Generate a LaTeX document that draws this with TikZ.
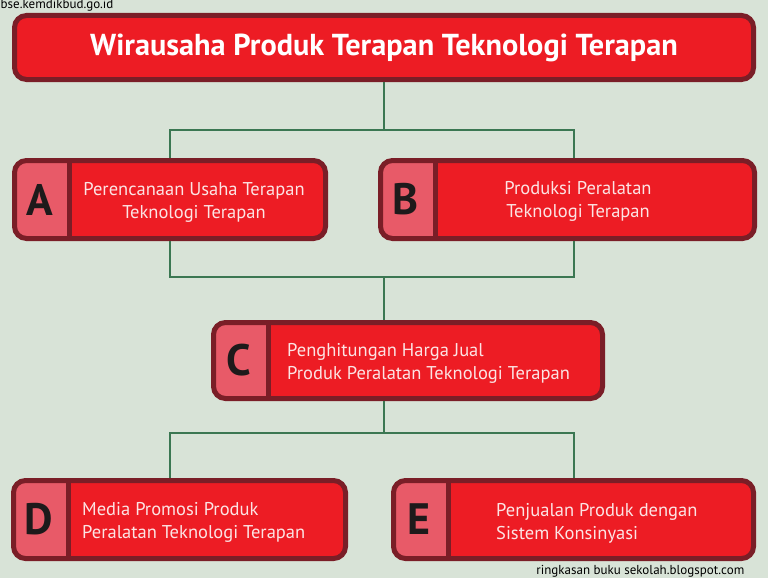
\documentclass[tikz,border=0pt]{standalone}
\usepackage{fontspec}
\setmainfont{PT Sans}
\definecolor{bg}{HTML}{D8E3D7}
\definecolor{boxred}{HTML}{ED1C24}
\definecolor{boxedge}{HTML}{7A1E27}
\definecolor{panel}{HTML}{E85A68}
\definecolor{linkgreen}{HTML}{3B7752}
\definecolor{paletext}{HTML}{FCE4E4}
\definecolor{letterink}{HTML}{1E1A1B}

\begin{document}
\begin{tikzpicture}[x=1pt, y=-1pt,
    box/.style={draw=boxedge, line width=5pt, fill=boxred, rounded corners=12pt,
        minimum height=78pt, inner sep=0pt},
    tagbox/.style={box, path picture={
        \fill[panel, sharp corners] (path picture bounding box.north west)
            rectangle ([xshift=55pt]path picture bounding box.south west);
        \draw[boxedge, sharp corners, line width=5pt] ([xshift=55pt]path picture bounding box.north west)
            -- ([xshift=55pt]path picture bounding box.south west);}},
    tag/.style={font=\fontsize{44}{44}\selectfont\bfseries, text=letterink},
    desc/.style={font=\fontsize{18.5}{23}\selectfont, text=paletext, inner sep=0pt},
    stamp/.style={font=\fontsize{13}{13}\selectfont, inner sep=0.5pt},
    link/.style={draw=linkgreen, line width=1.5pt}]
            \fill[bg](0,0)rectangle(768,578);
            \useasboundingbox (0,0)rectangle(768,578);

            % boxes
            \node [box, minimum width=739pt, minimum height=64pt, text=white,
                font=\fontsize{30.3}{30}\selectfont\bfseries](title) at (384,47.5)
                {Wirausaha Produk Terapan Teknologi Terapan};
            \node [tagbox, minimum width=311pt](A) at (170,199.5){};
            \node [tagbox, minimum width=374pt](B) at (567.5,199.5){};
            \node [tagbox, minimum width=389pt, minimum height=76pt](C) at (408,360.5){};
            \node [tagbox, minimum width=332pt](D) at (179.5,519.5){};
            \node [tagbox, minimum width=360pt](E) at (573.5,519.5){};

            % letters
            \node [tag] at ([xshift=27.5pt]A.west){A};
            \node [tag] at ([xshift=27.5pt]B.west){B};
            \node [tag] at ([xshift=27.5pt]C.west){C};
            \node [tag] at ([xshift=27.5pt]D.west){D};
            \node [tag] at ([xshift=27.5pt]E.west){E};

            % texts
            \node [desc, align=center](textA) at (194,202){Perencanaan Usaha Terapan\\Teknologi Terapan};
            \node [desc, align=center](textB) at (578,201){Produksi Peralatan\\Teknologi Terapan};
            \node [desc, align=left, anchor=west](textC) at (287,363){Penghitungan Harga Jual\\Produk Peralatan Teknologi Terapan};
            \node [desc, align=left, anchor=west](textD) at (82,522){Media Promosi Produk\\Peralatan Teknologi Terapan};
            \node [desc, align=left, anchor=west](textE) at (496,523){Penjualan Produk dengan\\Sistem Konsinyasi};

            % connectors
            \coordinate (colL) at (170,0);
            \coordinate (colR) at (574,0);
            \coordinate (busA) at (384,130);
            \coordinate (busB) at (384,277);
            \coordinate (busC) at (384,433);
            \draw [link](title.south)--(busA);
            \draw [link](A.north -| colL)|-(busA)-|(B.north -| colR);
            \draw [link](A.south -| colL)|-(busB)-|(B.south -| colR);
            \draw [link](busB)--(C.north -| busB);
            \draw [link](C.south -| busC)--(busC);
            \draw [link](D.north -| colL)|-(busC)-|(E.north -| colR);

            % watermarks
            \node [stamp, anchor=north west](src) at (0,-1){bse.kemdikbud.go.id};
            \node [stamp, anchor=south east](blog) at (745,578){ringkasan buku sekolah.blogspot.com};
\end{tikzpicture}
\end{document}
